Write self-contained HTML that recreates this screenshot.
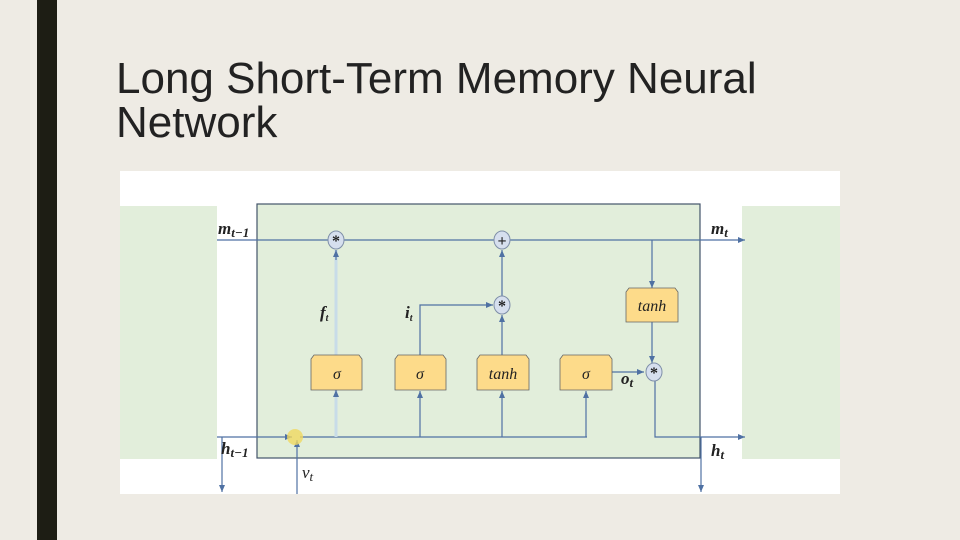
<!DOCTYPE html>
<html><head><style>
body{margin:0;width:960px;height:540px;background:#eeebe4;position:relative;overflow:hidden;font-family:"Liberation Sans",sans-serif}
.bar{position:absolute;left:37px;top:0;width:20px;height:540px;background:#1d1d14}
h1{position:absolute;left:116px;top:57px;margin:0;font-weight:normal;font-size:44px;line-height:44px;color:#222}
</style></head><body>
<div class="bar"></div>
<h1>Long Short-Term Memory Neural<br>Network</h1>
<svg width="960" height="540" style="position:absolute;left:0;top:0" font-family="Liberation Serif,serif">
<defs><marker id="a" markerWidth="8" markerHeight="8" refX="7" refY="4" orient="auto" markerUnits="userSpaceOnUse"><path d="M0,1 L7,4 L0,7z" fill="#4f71a3"/></marker></defs>
<rect x="120" y="171" width="720" height="323" fill="#fff"/>
<rect x="120" y="206" width="97" height="253" fill="#e2eedb"/>
<rect x="742" y="206" width="98" height="253" fill="#e2eedb"/>
<rect x="257" y="204" width="443" height="254" fill="#e2eedb" stroke="#44546a" stroke-width="1.2"/>
<g stroke="#4f71a3" stroke-width="1.2" fill="none">
<line x1="217" y1="240" x2="745" y2="240" marker-end="url(#a)"/>
<line x1="336" y1="355" x2="336" y2="250" stroke="#c8dce8" stroke-width="3"/>
<line x1="336" y1="260" x2="336" y2="250" marker-end="url(#a)"/>
<line x1="502" y1="355" x2="502" y2="315" marker-end="url(#a)"/>
<line x1="502" y1="296" x2="502" y2="250" marker-end="url(#a)"/>
<polyline points="420,355 420,305 493,305" marker-end="url(#a)"/>
<line x1="652" y1="240" x2="652" y2="288" marker-end="url(#a)"/>
<line x1="652" y1="322" x2="652" y2="363" marker-end="url(#a)"/>
<line x1="612" y1="372" x2="644" y2="372" marker-end="url(#a)"/>
<polyline points="655,381 655,437 745,437" marker-end="url(#a)"/>
<line x1="217" y1="437" x2="292" y2="437" marker-end="url(#a)"/>
<line x1="300" y1="437" x2="587" y2="437"/>
<line x1="336" y1="437" x2="336" y2="390" stroke="#c8dce8" stroke-width="3"/>
<line x1="336" y1="396" x2="336" y2="390" marker-end="url(#a)"/>
<line x1="420" y1="437" x2="420" y2="391" marker-end="url(#a)"/>
<line x1="502" y1="437" x2="502" y2="391" marker-end="url(#a)"/>
<line x1="586" y1="437" x2="586" y2="391" marker-end="url(#a)"/>
<line x1="297" y1="494" x2="297" y2="440" marker-end="url(#a)"/>
<line x1="222" y1="437" x2="222" y2="492" marker-end="url(#a)"/>
<line x1="701" y1="437" x2="701" y2="492" marker-end="url(#a)"/>
</g>
<circle cx="295" cy="437" r="8" fill="#f0d860" opacity="0.8"/>
<g fill="#d6dfee" stroke="#7f8fa8">
<ellipse cx="336" cy="240" rx="8" ry="9"/><ellipse cx="502" cy="240" rx="8" ry="9"/><ellipse cx="502" cy="305" rx="8" ry="9"/><ellipse cx="654" cy="372" rx="8" ry="9"/>
</g>
<g font-size="16" font-weight="bold" text-anchor="middle" fill="#222">
<text x="336" y="246">*</text><text x="502" y="246">+</text><text x="502" y="311">*</text><text x="654" y="378">*</text>
</g>
<g fill="#fddb8a" stroke="#666" stroke-width="0.8">
<path d="M629,288 L675,288 L678,292 L678,322 L626,322 L626,292z"/>
<path d="M314,355 L359,355 L362,359 L362,390 L311,390 L311,359z"/>
<path d="M398,355 L443,355 L446,359 L446,390 L395,390 L395,359z"/>
<path d="M480,355 L526,355 L529,359 L529,390 L477,390 L477,359z"/>
<path d="M563,355 L609,355 L612,359 L612,390 L560,390 L560,359z"/>
</g>
<g font-style="italic" font-size="16" text-anchor="middle" fill="#222">
<text x="652" y="311">tanh</text><text x="337" y="379">σ</text><text x="420" y="379">σ</text><text x="503" y="379">tanh</text><text x="586" y="379">σ</text>
</g>
<g font-style="italic" font-weight="bold" font-size="17" fill="#222">
<text x="218" y="234">m<tspan font-size="13" dy="3">t−1</tspan></text>
<text x="711" y="234">m<tspan font-size="13" dy="3">t</tspan></text>
<text x="320" y="318">f<tspan font-size="10" dy="3">t</tspan></text>
<text x="405" y="318">i<tspan font-size="10" dy="3">t</tspan></text>
<text x="621" y="384">o<tspan font-size="13" dy="3">t</tspan></text>
<text x="221" y="454">h<tspan font-size="13" dy="3">t−1</tspan></text>
<text x="711" y="456">h<tspan font-size="13" dy="3">t</tspan></text>
<text x="302" y="478" font-weight="normal">v<tspan font-size="13" dy="3">t</tspan></text>
</g>
</svg>
</body></html>
